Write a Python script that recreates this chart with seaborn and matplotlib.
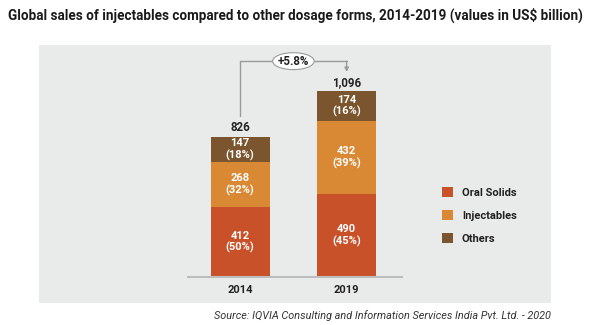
import numpy as np
import pandas as pd
import matplotlib
matplotlib.use("Agg")
import matplotlib.pyplot as plt
import seaborn as sns
from matplotlib import font_manager
from matplotlib.patches import Rectangle, Ellipse, Patch

years = ["2014", "2019"]
segments = ["Oral Solids", "Injectables", "Others"]
oral_solids = [412, 490]
injectables = [268, 432]
others = [147, 174]
shares_oral = [50, 45]
shares_inj = [32, 39]
shares_oth = [18, 16]
totals = [826, 1096]
total_labels = ["826", "1,096"]
growth_label = "+5.8%"
colors = {"Oral Solids": "#C9512A", "Injectables": "#D98934", "Others": "#7A552E"}

sns.set_theme(style="white")
names = {f.name for f in font_manager.fontManager.ttflist}
cond = "Liberation Sans Narrow" if "Liberation Sans Narrow" in names else "Roboto"
plt.rcParams["font.family"] = [cond, "DejaVu Sans"]

W, H = 601, 325
fig = plt.figure(figsize=(W / 100, H / 100), dpi=100)
fig.patch.set_facecolor("white")

# gray panel
fig.patches.append(Rectangle((39 / W, 1 - 303 / H), (551 - 39) / W, (303 - 45) / H,
                             transform=fig.transFigure, facecolor="#E9EAEA",
                             edgecolor="none", zorder=-5))

ax_l, ax_r, ax_b, ax_t = 188, 402, 277, 45
ax = fig.add_axes([ax_l / W, 1 - ax_b / H, (ax_r - ax_l) / W, (ax_b - ax_t) / H])
ax.patch.set_visible(False)

df = pd.DataFrame({"year": years, "Oral Solids": oral_solids,
                   "Injectables": injectables, "Others": others})
df["c1"] = df["Oral Solids"]
df["c2"] = df["c1"] + df["Injectables"]
df["c3"] = df["c2"] + df["Others"]

bw = 0.555
for col, seg in [("c3", "Others"), ("c2", "Injectables"), ("c1", "Oral Solids")]:
    sns.barplot(data=df, x="year", y=col, color=colors[seg], saturation=1,
                width=bw, linewidth=0, ax=ax)

ax.set_xlim(-0.49, 1.52)
ax.set_ylim(0, 1370)
for s in ["top", "left", "right"]:
    ax.spines[s].set_visible(False)
ax.spines["bottom"].set_color("#BDBDBD")
ax.spines["bottom"].set_linewidth(1.5)
ax.set_yticks([])
ax.set_xlabel("")
ax.set_ylabel("")
ax.tick_params(axis="x", length=0, pad=6)
for lbl in ax.get_xticklabels():
    lbl.set_fontweight("bold")
    lbl.set_fontsize(8)
    lbl.set_color("#222222")

# segment labels
for i in range(len(years)):
    bottoms = [0, oral_solids[i], oral_solids[i] + injectables[i]]
    vals = [oral_solids[i], injectables[i], others[i]]
    shs = [shares_oral[i], shares_inj[i], shares_oth[i]]
    for b, v, s in zip(bottoms, vals, shs):
        ax.text(i, b + v / 2, f"{v}\n({s}%)", ha="center", va="center",
                color="white", fontsize=8, fontweight="bold", linespacing=1.15)
    ax.annotate(total_labels[i], (i, totals[i]), xytext=(0, 2),
                textcoords="offset points", ha="center", va="bottom",
                fontsize=8.3, fontweight="bold", color="#222222")

# growth bracket
y_start = totals[0] + 125
y_top = max(totals) * 1.163
y_end = max(totals) + 115
ax.plot([0, 0, 1], [y_start, y_top, y_top], color="#9A9A9A", lw=1, clip_on=False)
ax.annotate("", xy=(1, y_end), xytext=(1, y_top),
            arrowprops=dict(arrowstyle="-|>", color="#9A9A9A", lw=1,
                            mutation_scale=6, shrinkA=0, shrinkB=0),
            annotation_clip=False)
ax.add_patch(Ellipse((0.5, y_top), width=0.39, height=100, facecolor="white",
                     edgecolor="#9A9A9A", lw=0.8, clip_on=False, zorder=3))
ax.text(0.5, y_top, growth_label, ha="center", va="center", fontsize=8.3,
        fontweight="bold", color="#222222", zorder=4)

# legend
handles = [Patch(facecolor=colors[s], edgecolor="none", label=s) for s in segments]
leg = fig.legend(handles=handles, loc="upper left",
                 bbox_to_anchor=(442 / W, 1 - 187.5 / H), frameon=False,
                 borderpad=0, borderaxespad=0, handlelength=1.0, handleheight=1.0,
                 handletextpad=0.8, labelspacing=1.1,
                 prop={"size": 8, "weight": "bold", "family": [cond, "DejaVu Sans"]})
for t in leg.get_texts():
    t.set_color("#222222")

fig.text(8 / W, 1 - 15 / H,
         "Global sales of injectables compared to other dosage forms, 2014-2019 (values in US$ billion)",
         ha="left", va="center", fontsize=9.75, fontweight="bold", color="#1A1A1A")
fig.text(551 / W, 1 - 316 / H,
         "Source: IQVIA Consulting and Information Services India Pvt. Ltd. - 2020",
         ha="right", va="center", fontsize=7.8, style="italic", color="#333333")

fig.savefig("out.png", dpi=100)
